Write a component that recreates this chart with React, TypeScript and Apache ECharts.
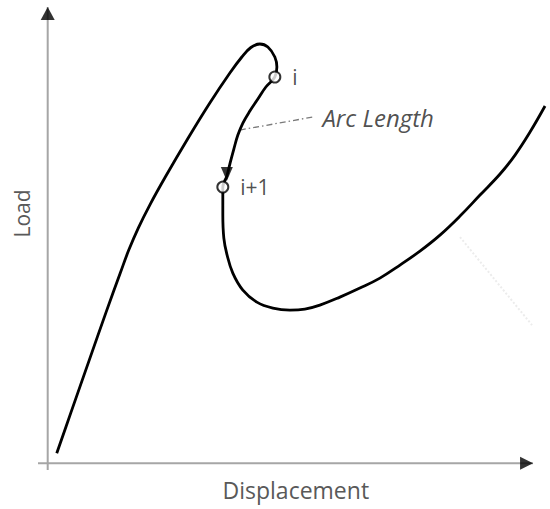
import React, { useEffect, useRef } from "react";
import * as echarts from "echarts";

// Load–displacement path (arbitrary units)
const displacement = [
  1.86, 4.74, 8.56, 11.96, 14.95, 16.7, 18.66, 21.03, 24.23, 29.07, 33.4, 37.53, 40.0, 41.86, 43.71,
  45.36, 46.8, 47.22, 46.8, 44.95, 43.3, 41.65, 40.21, 39.18, 38.35, 37.53, 36.91, 36.08, 36.08, 36.29,
  36.91, 38.14, 40.21, 43.09, 46.39, 49.9, 52.99, 56.08, 60.21, 64.33, 68.45, 72.58, 76.7, 80.82,
  84.95, 89.07, 93.2, 96.29, 99.38, 102.47,
];
const load = [
  2.19, 10.96, 22.59, 32.89, 41.67, 46.71, 51.54, 56.58, 62.72, 71.49, 78.95, 85.53, 89.04, 91.12, 91.89,
  91.23, 89.04, 86.84, 84.65, 82.46, 79.82, 77.19, 74.56, 71.93, 68.86, 65.57, 62.94, 60.53, 54.39, 49.34,
  45.83, 41.67, 37.94, 35.31, 33.99, 33.55, 33.77, 34.65, 36.4, 38.38, 40.57, 43.42, 46.49, 50.0,
  54.17, 58.77, 63.38, 67.54, 72.59, 78.29,
];

const pointNames = ["i", "i+1"];
const pointDisp = [46.8, 36.08];
const pointLoad = [84.65, 60.53];

const arcLeaderDisp = [39.59, 54.64];
const arcLeaderLoad = [73.03, 75.88];
const arcLabel = "Arc Length";

const curveArrow = [36.91, 63.38];

const faintDisp = [84.95, 99.79];
const faintLoad = [49.56, 30.26];

// axis arrows: x axis from -2 to 100, y axis from -1.5 to 100
const xAxisLine = [[-2, 0], [100, 0]];
const yAxisLine = [[0, -1.5], [0, 100]];

const xName = "Displacement";
const yName = "Load";

export default function App() {
  const ref = useRef<HTMLDivElement>(null);
  useEffect(() => {
    if (!ref.current) return;
    const chart = echarts.init(ref.current, undefined, { renderer: "svg" });
    const font = "'Open Sans', sans-serif";
    const axisStyle = { color: "#a6a6a6", width: 2 };
    chart.setOption({
      animation: false,
      backgroundColor: "#ffffff",
      grid: { left: 38, right: 2.4, top: 7, bottom: 39 },
      xAxis: {
        type: "value",
        min: -2,
        max: 103,
        axisLine: { show: false, onZero: false },
        axisTick: { show: false },
        axisLabel: { show: false },
        splitLine: { show: false },
        name: xName,
        nameLocation: "middle",
        nameGap: 8,
        nameTextStyle: {
          fontFamily: font,
          fontSize: 23,
          color: "#595959",
          padding: [0, 0, 0, 6],
          verticalAlign: "top",
        },
      },
      yAxis: {
        type: "value",
        min: -1.5,
        max: 100,
        axisLine: { show: false, onZero: false },
        axisTick: { show: false },
        axisLabel: { show: false },
        splitLine: { show: false },
        name: yName,
        nameLocation: "middle",
        nameGap: 6,
        nameRotate: 90,
        nameTextStyle: {
          fontFamily: font,
          fontSize: 21,
          color: "#595959",
          padding: [0, 0, 0, 50],
        },
      },
      series: [
        {
          type: "line",
          data: xAxisLine,
          symbol: "none",
          clip: false,
          lineStyle: axisStyle,
          z: 1,
        },
        {
          type: "line",
          data: yAxisLine,
          symbol: "none",
          clip: false,
          lineStyle: axisStyle,
          z: 1,
        },
        {
          type: "line",
          data: faintDisp.map((d, k) => [d, faintLoad[k]]),
          symbol: "none",
          clip: false,
          lineStyle: { color: "#ececec", width: 2, type: "dotted" },
          z: 1,
        },
        {
          type: "line",
          data: displacement.map((d, k) => [d, load[k]]),
          symbol: "none",
          smooth: 0.4,
          clip: false,
          lineStyle: { color: "#000", width: 2.8 },
          z: 3,
        },
        {
          type: "line",
          data: arcLeaderDisp.map((d, k) => [d, arcLeaderLoad[k]]),
          symbol: "none",
          clip: false,
          lineStyle: { color: "#7a7a7a", width: 1.3, type: [6, 3, 1.5, 3] },
          z: 2,
        },
        {
          type: "scatter",
          data: [[arcLeaderDisp[1], arcLeaderLoad[1]]],
          symbolSize: 1,
          itemStyle: { color: "rgba(0,0,0,0)" },
          label: {
            show: true,
            position: "right",
            distance: 9,
            formatter: arcLabel,
            fontFamily: font,
            fontStyle: "italic",
            fontSize: 24,
            color: "#222",
          },
          z: 4,
        },
        {
          type: "scatter",
          data: [curveArrow],
          symbol: "triangle",
          symbolSize: [12, 14],
          symbolRotate: 180,
          itemStyle: { color: "#000" },
          z: 4,
        },
        {
          type: "scatter",
          data: pointNames.map((n, k) => ({ name: n, value: [pointDisp[k], pointLoad[k]] })),
          symbol: "circle",
          symbolSize: 11,
          itemStyle: { color: "#fff", borderColor: "#000", borderWidth: 2 },
          label: {
            show: true,
            position: "right",
            distance: 11,
            formatter: "{b}",
            fontFamily: font,
            fontSize: 21,
            color: "#222",
          },
          z: 5,
        },
        {
          type: "scatter",
          clip: false,
          data: [
            { value: xAxisLine[1], symbol: "path://M0,0 L10,5 L0,10 Z", symbolSize: [13, 13], symbolOffset: [-6.5, 0] },
            { value: yAxisLine[1], symbol: "triangle", symbolSize: [14, 13], symbolOffset: [0, 6.5] },
          ],
          itemStyle: { color: "#000" },
          z: 6,
        },
      ],
    });
    return () => chart.dispose();
  }, []);
  return (
    <div
      ref={ref}
      style={{ position: "absolute", left: 0, top: 0, width: 550, height: 509 }}
    />
  );
}
